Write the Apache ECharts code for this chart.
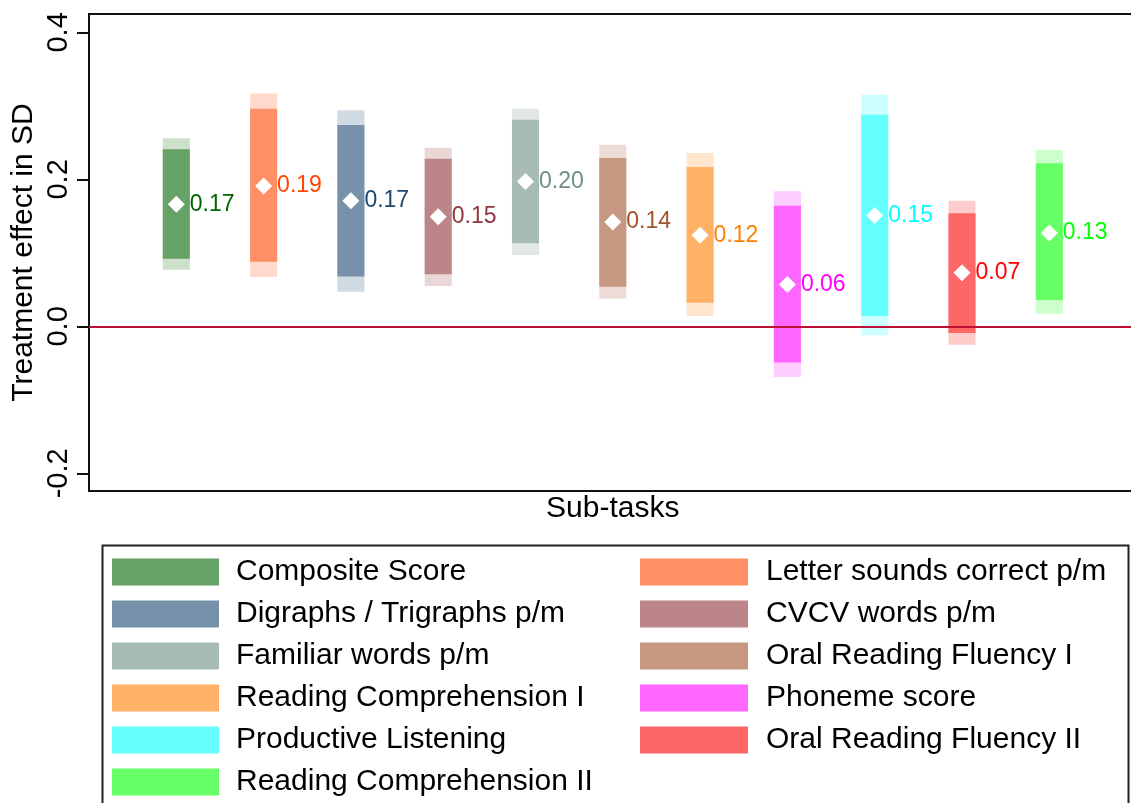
<!DOCTYPE html>
<html>
<head>
<meta charset="utf-8">
<title>Treatment effects by sub-task</title>
<script src="https://cdn.jsdelivr.net/npm/echarts@6/dist/echarts.min.js"></script>
<style>
  html, body { margin: 0; padding: 0; background: #ffffff; }
  #chart { width: 1131px; height: 803px; }
</style>
</head>
<body>
<div id="chart"></div>
<script>
// Sub-task names, in plotting order (left to right)
const subtasks = [
  'Composite Score',
  'Letter sounds correct p/m',
  'Digraphs / Trigraphs p/m',
  'CVCV words p/m',
  'Familiar words p/m',
  'Oral Reading Fluency I',
  'Reading Comprehension I',
  'Phoneme score',
  'Productive Listening',
  'Oral Reading Fluency II',
  'Reading Comprehension II'
];

// Point estimates (SD units)
const estimate = [0.166, 0.191, 0.171, 0.149, 0.197, 0.142, 0.124, 0.057, 0.151, 0.073, 0.127];

// 90% confidence interval bounds (darker inner band)
const ci90Low  = [0.092, 0.088, 0.068, 0.071, 0.113, 0.054, 0.032, -0.049, 0.014, -0.009, 0.036];
const ci90High = [0.241, 0.296, 0.274, 0.228, 0.281, 0.229, 0.217, 0.164, 0.288, 0.154, 0.222];

// 95% confidence interval bounds (lighter outer band)
const ci95Low  = [0.077, 0.067, 0.047, 0.055, 0.097, 0.038, 0.014, -0.069, -0.012, -0.025, 0.017];
const ci95High = [0.256, 0.317, 0.294, 0.243, 0.296, 0.247, 0.236, 0.184, 0.315, 0.171, 0.240];

// Y-axis tick values
const yTicks = [-0.2, 0, 0.2, 0.4];

// Base colour for each sub-task (label text); bands are tints of these
const baseColors = [
  [0, 100, 0],     // dark green
  [255, 69, 0],    // orange red
  [26, 71, 111],   // navy
  [144, 53, 59],   // maroon
  [110, 142, 132], // teal
  [160, 82, 45],   // sienna
  [255, 127, 0],   // orange
  [255, 0, 255],   // magenta
  [0, 255, 255],   // cyan
  [255, 0, 0],     // red
  [0, 255, 0]      // lime
];

const FONT = '"Liberation Sans", Arial, Helvetica, sans-serif';

function tint(rgb, intensity) {
  const c = rgb.map(v => Math.round(v * intensity + 255 * (1 - intensity)));
  return 'rgb(' + c.join(',') + ')';
}
const solid = rgb => 'rgb(' + rgb.join(',') + ')';

const innerColors = baseColors.map(c => tint(c, 0.6));
const outerColors = baseColors.map(c => tint(c, 0.2));
const labelColors = baseColors.map(solid);

const BAND_HALF_WIDTH = 0.155; // in x-axis units

const bandSeries = subtasks.map((name, i) => ({
  type: 'custom',
  name: name,
  coordinateSystem: 'cartesian2d',
  z: 2,
  silent: true,
  itemStyle: { color: innerColors[i] },
  encode: { x: 0, y: [1, 2, 3, 4] },
  data: [[i + 1, ci95Low[i], ci95High[i], ci90Low[i], ci90High[i]]],
  renderItem: function (params, api) {
    const x = api.value(0);
    const band = (lo, hi, color) => {
      const p1 = api.coord([x - BAND_HALF_WIDTH, hi]);
      const p2 = api.coord([x + BAND_HALF_WIDTH, lo]);
      return {
        type: 'rect',
        shape: { x: p1[0], y: p1[1], width: p2[0] - p1[0], height: p2[1] - p1[1] },
        style: { fill: color }
      };
    };
    return {
      type: 'group',
      children: [
        band(api.value(1), api.value(2), outerColors[i]),
        band(api.value(3), api.value(4), innerColors[i])
      ]
    };
  }
}));

const legendText = { fontSize: 30, color: '#000', fontFamily: FONT };

const legendCommon = {
  top: 557,
  height: 320,
  orient: 'vertical',
  padding: 0,
  itemHeight: 27,
  itemGap: 12,
  icon: 'rect',
  selectedMode: false
};

const chart = echarts.init(document.getElementById('chart'), null, { renderer: 'canvas' });

chart.setOption({
  animation: false,
  backgroundColor: '#ffffff',
  textStyle: { fontFamily: FONT },
  grid: {
    left: 89,
    top: 14,
    width: 1047.6,
    height: 477,
    containLabel: false,
    outerBoundsMode: 'none',
    show: true,
    borderColor: '#111111',
    borderWidth: 2,
    backgroundColor: 'transparent'
  },
  xAxis: {
    type: 'value',
    min: 0,
    max: 12,
    name: 'Sub-tasks',
    nameLocation: 'middle',
    nameGap: 3,
    nameMoveOverlap: false,
    nameTextStyle: { fontSize: 30, color: '#000', fontFamily: FONT, verticalAlign: 'top' },
    axisLine: { show: false },
    axisTick: { show: false },
    axisLabel: { show: false },
    splitLine: { show: false }
  },
  yAxis: {
    type: 'value',
    min: -0.224,
    max: 0.425,
    name: 'Treatment effect in SD',
    nameLocation: 'middle',
    nameGap: 50,
    nameMoveOverlap: false,
    nameTextStyle: { fontSize: 30, color: '#000', fontFamily: FONT },
    axisLine: { show: true, onZero: false, lineStyle: { color: '#111111', width: 2 } },
    axisTick: {
      show: true,
      customValues: yTicks,
      length: 12,
      lineStyle: { color: '#111111', width: 2 }
    },
    axisLabel: {
      show: true,
      customValues: yTicks,
      rotate: 90,
      margin: 16,
      fontSize: 29,
      color: '#000',
      fontFamily: FONT,
      formatter: v => v.toFixed(1)
    },
    splitLine: { show: false }
  },
  legend: [
    Object.assign({}, legendCommon, {
      left: 112,
      itemWidth: 107,
      textStyle: Object.assign({ padding: [0, 0, 0, 12] }, legendText),
      data: subtasks.map((n, i) => ({ name: n, itemStyle: { color: innerColors[i] } })).filter((_, i) => i % 2 === 0)
    }),
    Object.assign({}, legendCommon, {
      left: 640,
      itemWidth: 108,
      textStyle: Object.assign({ padding: [0, 0, 0, 13] }, legendText),
      data: subtasks.map((n, i) => ({ name: n, itemStyle: { color: innerColors[i] } })).filter((_, i) => i % 2 === 1)
    })
  ],
  graphic: [
    {
      type: 'rect',
      left: 100,
      top: 543,
      z: 0,
      silent: true,
      shape: { width: 1026, height: 300 },
      style: { fill: 'none', stroke: '#222222', lineWidth: 2 }
    }
  ],
  series: [
    {
      // zero reference line
      type: 'line',
      name: 'zero',
      z: 1,
      data: [],
      silent: true,
      markLine: {
        silent: true,
        symbol: 'none',
        label: { show: false },
        lineStyle: { color: '#BE0F34', width: 2, type: 'solid' },
        data: [{ yAxis: 0 }]
      }
    },
    ...bandSeries,
    {
      type: 'scatter',
      name: 'estimate',
      z: 5,
      silent: true,
      symbol: 'diamond',
      symbolSize: 17,
      itemStyle: { color: '#ffffff', opacity: 1 },
      label: {
        show: true,
        position: 'right',
        distance: 5,
        fontSize: 23,
        fontFamily: FONT,
        formatter: p => p.value[1].toFixed(2)
      },
      data: estimate.map((v, i) => ({ value: [i + 1, v], label: { color: labelColors[i] } }))
    }
  ]
});
</script>
</body>
</html>
